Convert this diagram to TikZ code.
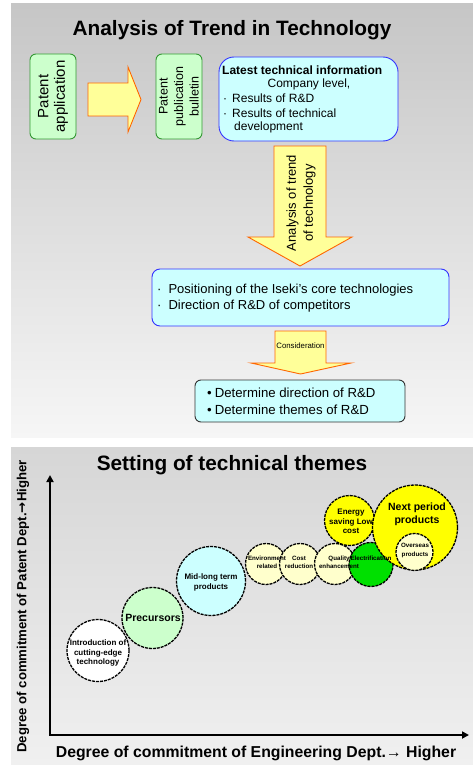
\documentclass[tikz,border=0pt]{standalone}
\usepackage{fontspec}
\setmainfont{Liberation Sans}
\newfontfamily\djv{DejaVu Sans}
\usetikzlibrary{arrows.meta,shapes.geometric}
\newcommand\fsz[2]{\fontsize{#1}{#2}\selectfont}
\definecolor{bgtopA}{HTML}{C6C6C6}
\definecolor{bgbotA}{HTML}{F6F6F6}
\definecolor{bgtopB}{HTML}{D6D6D6}
\definecolor{bgbotB}{HTML}{F0F0F0}
\definecolor{lgreen}{HTML}{CCFFCC}
\definecolor{dgreen}{HTML}{339933}
\definecolor{lcyan}{HTML}{CCFFFF}
\definecolor{bblue}{HTML}{3333FF}
\definecolor{lyellow}{HTML}{FFFF99}
\definecolor{aorange}{HTML}{FF6600}
\definecolor{yel}{HTML}{FFFF00}
\definecolor{paleyel}{HTML}{FFFFCC}
\definecolor{bgreen}{HTML}{00E000}
\begin{document}
\begin{tikzpicture}[x=1pt,y=-1pt,
  gbox/.style={draw=dgreen,fill=lgreen,line width=0.9pt,rounded corners=6pt,align=center,inner sep=0pt},
  cbox/.style={draw=bblue,fill=lcyan,line width=0.9pt,inner sep=0pt},
  barrow/.style={draw=aorange,fill=lyellow,line width=0.9pt,line join=miter},
  ttl/.style={font=\bfseries\fsz{20.8}{24}},
  txt/.style={inner sep=0pt,anchor=west},
  circ/.style={circle,draw=black,line width=1.3pt,dash pattern=on 3pt off 1pt,inner sep=0pt},
  ctext/.style={font=\bfseries\fsz{6.2}{8.2},align=center,inner sep=0pt},
  axis/.style={line width=2.6pt,{Triangle[length=7pt,width=7pt]}-{Triangle[length=7pt,width=7pt]}}
]
\useasboundingbox (0,0) rectangle (473,765);
% backgrounds
\shade[top color=bgtopA,bottom color=bgbotA] (11,4) rectangle (473,437);
\shade[top color=bgtopB,bottom color=bgbotB] (11,447) rectangle (473,765);

% ---------- top panel ----------
\node[ttl] (t1) at (232,30) {Analysis of Trend in Technology};

\node[gbox,rotate=90,minimum width=85pt,minimum height=46pt,font=\fsz{15}{16.5}] (pa) at (53,96.5) {Patent\\application};
\node[gbox,rotate=90,minimum width=85pt,minimum height=46pt,font=\fsz{12.5}{15.5}] (pb) at (179,96.5) {Patent\\publication\\bulletin};

\draw[barrow] (88,83) -- (128,83) -- (128,67) -- (141,99.5) -- (128,132) -- (128,116) -- (88,116) -- cycle;

\node[cbox,rounded corners=15pt,minimum width=179pt,minimum height=84pt] (lt) at (308.5,99) {};
\node[txt,font=\bfseries\fsz{12}{14}] (lt1) at (222,70) {Latest technical information};
\node[inner sep=0pt,font=\fsz{12}{14}] (lt2) at (309,84) {Company level,};
\node[txt,font=\fsz{12}{14}] (lt3) at (223,98.5) {·\hspace{5pt}Results of R\&D};
\node[txt,font=\fsz{12}{14}] (lt4) at (223,113) {·\hspace{5pt}Results of technical};
\node[txt,font=\fsz{12}{14}] (lt5) at (234,127.5) {development};

\draw[barrow] (274,146) -- (326,146) -- (326,237) -- (352,237) -- (300,266) -- (248,237) -- (274,237) -- cycle;
\node[rotate=90,align=center,inner sep=0pt,font=\fsz{13}{17}] (a1) at (301,203) {Analysis of trend\\of technology};

\node[cbox,rounded corners=8pt,minimum width=297pt,minimum height=57pt] (b2) at (300.5,297.5) {};
\node[txt,font=\fsz{13}{16}] (b21) at (157,290) {·\hspace{7pt}Positioning of the Iseki's core technologies};
\node[txt,font=\fsz{13}{16}] (b22) at (157,306) {·\hspace{7pt}Direction of R\&D of competitors};

\draw[barrow] (275,331) -- (326,331) -- (326,363) -- (351,363) -- (300.5,374) -- (251,363) -- (275,363) -- cycle;
\node[inner sep=0pt,font=\fsz{7.8}{9}] (a2) at (300.5,346) {Consideration};

\node[draw=black!80,fill=lcyan,line width=0.9pt,rounded corners=6pt,minimum width=210pt,minimum height=42pt,inner sep=0pt] (b3) at (300,401) {};
\node[txt,font=\fsz{13.2}{16}] (b31) at (207,392.5) {•\hspace{3pt}Determine direction of R\&D};
\node[txt,font=\fsz{13.2}{16}] (b32) at (207,409.5) {•\hspace{3pt}Determine themes of R\&D};

% ---------- bottom panel ----------
\node[ttl] (t2) at (232,465) {Setting of technical themes};

\coordinate (ytop) at (50,475);
\coordinate (orig) at (50,735);
\coordinate (xend) at (469,735);
\draw[axis] (ytop) -- (orig) -- (xend);

\node[rotate=90,inner sep=0pt,font=\bfseries\fsz{13.2}{15}] (ylab) at (23,606.5) {Degree of commitment of Patent Dept.{\djv\bfseries →}Higher};
\node[inner sep=0pt,font=\bfseries\fsz{15.8}{18}] (xlab) at (256,753) {Degree of commitment of Engineering Dept.→ Higher};

% circles
\node[circ,fill=white,minimum size=62pt] (c1) at (98,650.5) {};
\node[circ,fill=lgreen,minimum size=61pt] (c2) at (152.5,618) {};
\node[circ,fill=lcyan,minimum size=69pt] (c3) at (211,581) {};
\node[circ,fill=paleyel,minimum size=41pt] (c4) at (266,564) {};
\node[circ,fill=paleyel,minimum size=41pt] (c5) at (300,564) {};
\node[circ,fill=paleyel,minimum size=41pt] (c6) at (335,564) {};
\node[circ,fill=bgreen,minimum size=44pt] (c7) at (371,564.5) {};
\node[circ,fill=yel,minimum size=50pt] (c8) at (349.5,520.5) {};
\node[circ,fill=yel,minimum size=85pt] (c9) at (415,527.5) {};
\node[circ,fill=paleyel,minimum size=37pt] (c10) at (414.5,552) {};

% circle texts
\node[ctext,font=\bfseries\fsz{8}{9.7}] (l1) at (98,653) {Introduction of\\cutting-edge\\technology};
\node[ctext,font=\bfseries\fsz{10.5}{12}] (l2) at (153,617.5) {Precursors};
\node[ctext,font=\bfseries\fsz{8}{9.5}] (l3) at (211,582.5) {Mid-long term\\products};
\node[ctext] (l4) at (267,562.5) {Environment\\related};
\node[ctext] (l5) at (299,562.5) {Cost\\reduction};
\node[ctext] (l6) at (339,562.5) {Quality\\enhancement};
\node[ctext] (l7) at (371,558) {Electrification};
\node[ctext,font=\bfseries\fsz{8}{9.3}] (l8) at (351,521.5) {Energy\\saving Low\\cost};
\node[ctext,font=\bfseries\fsz{10.5}{12.8}] (l9) at (417,514.5) {Next period\\products};
\node[ctext] (l10) at (415,550.5) {Overseas\\products};
\end{tikzpicture}
\end{document}
